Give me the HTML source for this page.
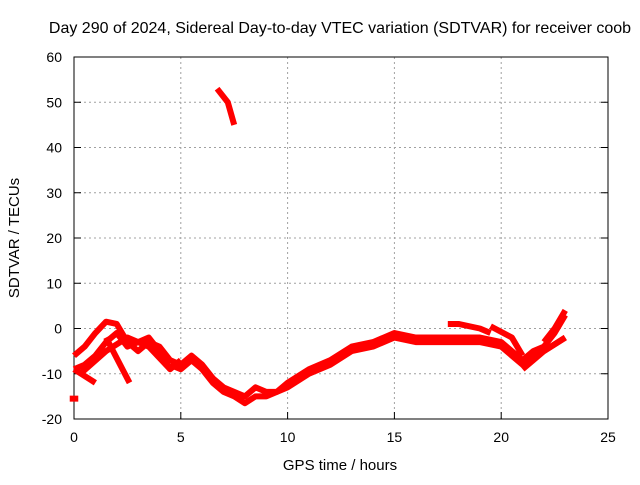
<!DOCTYPE html>
<html><head><meta charset="utf-8"><style>
body{margin:0;background:#fff}
svg text{font-family:"Liberation Sans",sans-serif;font-size:14px;fill:#000}
</style></head><body>
<svg width="640" height="480">
<g id="grid"></g>
<rect x="74" y="57" width="534" height="362" fill="none" stroke="#000"/>
<g id="ticks"></g>
<g id="series"></g>
<text x="340" y="33" text-anchor="middle" style="font-size:16px">Day 290 of 2024, Sidereal Day-to-day VTEC variation (SDTVAR) for receiver coob</text>
<text x="340" y="470" text-anchor="middle" style="font-size:15px">GPS time / hours</text>
<text x="19" y="238" text-anchor="middle" style="font-size:15px" transform="rotate(-90 19 238)">SDTVAR / TECUs</text>
</svg>
<script>
const xTicks=[0,5,10,15,20,25];
const yTicks=[-20,-10,0,10,20,30,40,50,60];
const s1=[[0,-6],[0.5,-4],[1,-1],[1.5,1.5],[2,1],[2.5,-3],[3,-5],[3.5,-3],[4,-4],[4.5,-7],[5,-8],[5.5,-6],[6,-8],[6.5,-11],[7,-13],[7.5,-14],[8,-15],[8.5,-13],[9,-14],[9.5,-14],[10,-12],[11,-9],[12,-7],[13,-4],[14,-3],[15,-1],[16,-2],[17,-2],[18,-2],[19,-2],[20,-3],[20.5,-5],[21,-7],[21.5,-5],[22,-4],[22.5,-1],[23,3]];
const s2=[[4.5,-8],[5,-9],[5.5,-7],[6,-9],[6.5,-12],[7,-14],[7.5,-15],[8,-16.5],[8.5,-15],[9,-15],[9.5,-14],[10,-13],[11,-10],[12,-8],[13,-5],[14,-4],[15,-2],[16,-3],[17,-3],[18,-3],[19,-3],[20,-4],[20.5,-6],[21,-8],[21.5,-6],[22,-5],[23,-2]];
const s3=[[0,-9],[0.5,-8],[1,-6],[1.5,-3],[2,-1],[2.5,-4],[3,-3],[3.5,-2],[4,-5],[4.5,-9],[5,-7]];
const s4=[[0.3,-10],[1.5,-5],[2.5,-2],[3.5,-4],[4.5,-9]];
const s5=[[0,-9],[1,-12]];
const s6=[[1.5,-2],[2.6,-12]];
const s7=[[6.7,53],[7.2,50],[7.5,45]];
const s8=[[17.5,1],[18,1],[19,0],[19.5,-1]];
const s9=[[19.5,0.5],[20.5,-2],[21,-6]];
const s10=[[21,-9],[21.5,-7],[22,-5],[23,-2]];
const s11=[[22,-3],[22.5,0],[23,4]];
const s12=[[-0.2,-15.5],[0.2,-15.5]];
const allSeries=[s1,s2,s3,s4,s5,s6,s7,s8,s9,s10,s11,s12];
const X=h=>74+h*534/25, Y=v=>57+(60-v)*362/80;
const NS="http://www.w3.org/2000/svg";
const grid=document.getElementById('grid'),ticks=document.getElementById('ticks'),ser=document.getElementById('series');
function mk(t,a,p){const e=document.createElementNS(NS,t);for(const k in a)e.setAttribute(k,a[k]);p.appendChild(e);return e;}
xTicks.forEach(t=>{const x=X(t);
 if(t>0&&t<25){const l=mk('line',{x1:x,x2:x,y1:57,y2:419,stroke:'#a0a0a0','stroke-dasharray':'2,3'},grid);
 }
 const tk=mk('line',{x1:x,x2:x,y1:419,y2:412,stroke:'#000'},ticks);
 
 const tx=mk('text',{x:x,y:442,'text-anchor':'middle'},ticks);tx.textContent=t;
 });
yTicks.forEach(t=>{const y=Y(t);
 if(t>-20&&t<60){const l=mk('line',{x1:74,x2:608,y1:y,y2:y,stroke:'#a0a0a0','stroke-dasharray':'2,3'},grid);
 }
 const tk=mk('line',{x1:74,x2:81,y1:y,y2:y,stroke:'#000'},ticks);
 
 const tk2=mk('line',{x1:601,x2:608,y1:y,y2:y,stroke:'#000'},ticks);
 
 const tx=mk('text',{x:62,y:y+5,'text-anchor':'end'},ticks);tx.textContent=t;
 });
allSeries.forEach(s=>{const p=mk('polyline',{points:s.map(d=>X(d[0])+','+Y(d[1])).join(' '),fill:'none',stroke:'#f00','stroke-width':6,'stroke-linejoin':'round'},ser);
 
 });
</script>
</body></html>
